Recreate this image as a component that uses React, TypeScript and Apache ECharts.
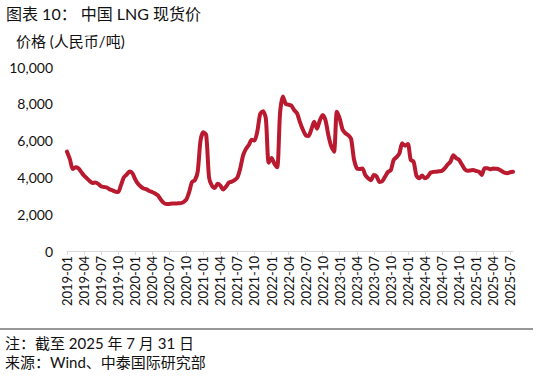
import React, { useEffect, useRef } from "react";
import * as echarts from "echarts";

// Semi-monthly observations, 2019-01 .. 2025-07 (RMB/ton)
const startYear = 2019;
const prices: number[] = [
  // 2019
  5400, 5000, 4450, 4550, 4500, 4300, 4100, 3950, 3800, 3700, 3720, 3650,
  3520, 3480, 3450, 3350, 3300, 3230, 3200, 3580, 4000, 4150, 4320, 4230,
  // 2020
  3900, 3650, 3500, 3400, 3350, 3260, 3200, 3130, 3020, 2800, 2620, 2550,
  2560, 2580, 2580, 2590, 2600, 2660, 2800, 3200, 3750, 3850, 4300, 6000,
  // 2021
  6450, 6300, 4000, 3550, 3420, 3650, 3550, 3340, 3500, 3720, 3770, 3850,
  4000, 4500, 5200, 5550, 5760, 6050, 6000, 6500, 7450, 7600, 7200, 4800,
  // 2022
  5050, 4750, 4550, 7500, 8400, 8000, 7950, 7900, 7650, 7480, 7000, 6600,
  6300, 6250, 6600, 7030, 6650, 7100, 7390, 7100, 6300, 5700, 5400, 7570,
  // 2023
  7200, 6600, 6400, 6300, 6100, 5000, 4500, 4450, 4490, 4130, 3950, 3850,
  4130, 4050, 3750, 3800, 4050, 4300, 4400, 4950, 5100, 5300, 5850, 5720,
  // 2024
  5820, 4950, 4860, 4100, 3950, 4100, 3950, 4050, 4260, 4300, 4310, 4330,
  4360, 4500, 4700, 4860, 5200, 5050, 4950, 4700, 4450, 4360, 4380, 4400,
  // 2025
  4350, 4310, 4130, 4500, 4500, 4440, 4490, 4470, 4440, 4350, 4260, 4230,
  4280, 4310,
];

const dates: string[] = prices.map((_, i) => {
  const m = Math.floor(i / 2);
  const y = startYear + Math.floor(m / 12);
  const mm = String((m % 12) + 1).padStart(2, "0");
  return `${y}-${mm}-${i % 2 === 0 ? "01" : "16"}`;
});

const yTicks = { min: 0, max: 10000, interval: 2000 };

const titleText = "图表 10： 中国 LNG 现货价";
const unitText = "价格 (人民币/吨)";
const noteText = "注：截至 2025 年 7 月 31 日";
const sourceText = "来源：Wind、中泰国际研究部";

const FONT = "Lato, 'Noto Sans CJK SC', sans-serif";

export default function App() {
  const ref = useRef<HTMLDivElement>(null);
  useEffect(() => {
    if (!ref.current) return;
    const chart = echarts.init(ref.current, null, { renderer: "svg" });
    chart.setOption({
      animation: false,
      backgroundColor: "#fff",
      grid: { left: 67, right: 26, top: 67, bottom: 125, containLabel: false },
      xAxis: {
        type: "category",
        data: dates,
        boundaryGap: false,
        axisLine: { show: true, lineStyle: { color: "#d9d9d9", width: 1 } },
        axisTick: { show: true, interval: 5, length: 4, lineStyle: { color: "#d9d9d9" } },
        axisLabel: {
          interval: 5,
          rotate: 90,
          margin: 5,
          color: "#111",
          fontSize: 13,
          fontFamily: FONT,
          formatter: (v: string) => v.slice(0, 7),
        },
        splitLine: { show: false },
      },
      yAxis: {
        type: "value",
        min: yTicks.min,
        max: yTicks.max,
        interval: yTicks.interval,
        axisLine: { show: false },
        axisTick: { show: false },
        splitLine: { show: false },
        axisLabel: {
          margin: 14,
          color: "#111",
          fontSize: 14,
          fontFamily: FONT,
          formatter: (v: number) => v.toLocaleString("en-US"),
        },
      },
      series: [
        {
          type: "line",
          data: prices,
          showSymbol: false,
          smooth: 0.25,
          lineStyle: { color: "#BA1A30", width: 4, join: "round", cap: "round" },
          itemStyle: { color: "#BA1A30" },
        },
      ],
      graphic: [
        {
          type: "text",
          left: 6,
          top: 5,
          style: { text: titleText, fontSize: 16, fontFamily: FONT, fill: "#111" },
        },
        {
          type: "text",
          left: 16,
          top: 33,
          style: { text: unitText, fontSize: 15, fontFamily: FONT, fill: "#111" },
        },
        {
          type: "line",
          shape: { x1: 0, y1: 329, x2: 533, y2: 329 },
          style: { stroke: "#333", lineWidth: 1.2 },
        },
        {
          type: "text",
          left: 5,
          top: 335,
          style: { text: noteText, fontSize: 15, fontFamily: FONT, fill: "#111" },
        },
        {
          type: "text",
          left: 5,
          top: 354,
          style: { text: sourceText, fontSize: 15, fontFamily: FONT, fill: "#111" },
        },
      ],
    });
    return () => chart.dispose();
  }, []);
  return (
    <div
      ref={ref}
      style={{ width: 539, height: 376, position: "absolute", left: 0, top: 0 }}
    />
  );
}
